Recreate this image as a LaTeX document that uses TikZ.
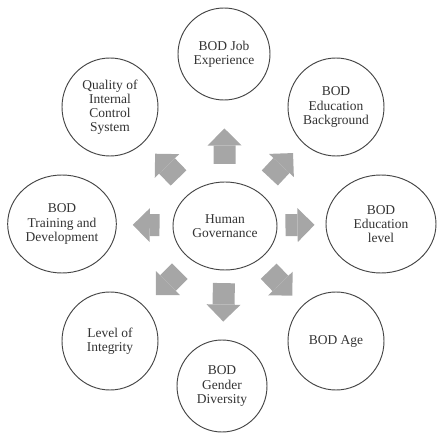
\documentclass[tikz,border=0pt]{standalone}
\usepackage{fontspec}
\setmainfont{Liberation Serif}
\usetikzlibrary{arrows.meta,shapes.geometric}

\definecolor{rimgray}{HTML}{454545}
\definecolor{blockgray}{HTML}{A6A6A6}
\definecolor{inkgray}{HTML}{333333}

\begin{document}
\begin{tikzpicture}[
    every node/.style={font=\fontsize{11.5}{12}\selectfont, text=inkgray},
    factor/.style={ellipse, draw=rimgray, line width=0.8pt, fill=white, align=center, inner sep=0pt, minimum width=2.88cm, minimum height=2.94cm},
    core/.style={factor, minimum width=3.12cm, minimum height=2.64cm},
    wide/.style={factor, minimum width=3.26cm},
    heading/.style={font=\fontsize{24}{28}\selectfont\bfseries, text=black, anchor=base east, inner sep=0pt},
    flow/.style={-{Triangle[width=1.02cm, length=0.51cm, line width=0pt]}, line width=0.66cm, draw=blockgray}
  ]
    \useasboundingbox (-6.75,-6.33) rectangle (6.33,6.78);

    % heading of the page, cut off at the top
    \node[heading] (title) at (-0.3,6.94) {Research Method};

    \node[core] (hg) at (0,0) {Human\\Governance};

    \node[factor, minimum width=2.76cm, minimum height=2.76cm] (job) at (-0.03,5.16) {BOD Job\\Experience};
    \node[factor] (qic) at (-3.45,3.57) {Quality of\\Internal\\Control\\System};
    \node[factor] (edu) at (3.33,3.57) {BOD\\Education\\Background};
    \node[wide] (train) at (-4.89,0.06) {BOD\\Training and\\Development};
    \node[wide, minimum width=3.30cm] (level) at (4.68,0.06) {BOD\\Education\\level};
    \node[factor] (integ) at (-3.45,-3.45) {Level of\\Integrity};
    \node[factor] (age) at (3.33,-3.45) {BOD Age};
    \node[factor, minimum width=2.70cm, minimum height=2.76cm] (gender) at (-0.09,-4.80) {BOD\\Gender\\Diversity};

    \draw[flow, shorten <=0.53cm, shorten >=0.84cm] (hg) -- (job);
    \draw[flow, shorten <=0.38cm, shorten >=0.54cm] (hg) -- (gender);
    \draw[flow, shorten <=0.39cm, shorten >=0.48cm] (hg) -- (train);
    \draw[flow, shorten <=0.24cm, shorten >=0.33cm] (hg) -- (level);
    \draw[flow, shorten <=0.57cm, shorten >=0.48cm] (hg) -- (qic);
    \draw[flow, shorten <=0.54cm, shorten >=0.42cm] (hg) -- (edu);
    \draw[flow, shorten <=0.48cm, shorten >=0.48cm] (hg) -- (integ);
    \draw[flow, shorten <=0.45cm, shorten >=0.42cm] (hg) -- (age);
  \end{tikzpicture}
\end{document}
